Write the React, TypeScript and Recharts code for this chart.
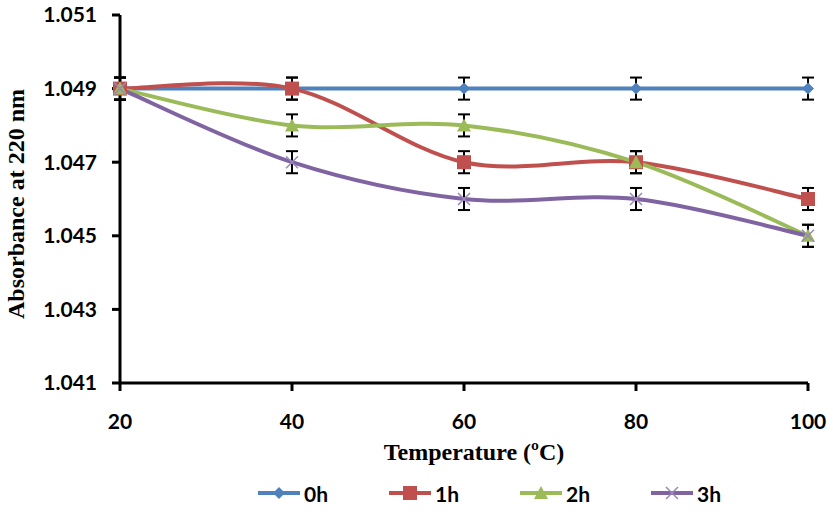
import React from 'react';
import {
  LineChart,
  Line,
  XAxis,
  YAxis,
  ErrorBar,
  Legend,
  Label
} from 'recharts';

const temps = [20, 40, 60, 80, 100];
const abs0h = [1.049, 1.049, 1.049, 1.049, 1.049];
const abs1h = [1.049, 1.049, 1.047, 1.047, 1.046];
const abs2h = [1.049, 1.048, 1.048, 1.047, 1.045];
const abs3h = [1.049, 1.047, 1.046, 1.046, 1.045];
const errs = [0.0003, 0.0003, 0.0003, 0.0003, 0.0003];

const yTicks = [1.041, 1.043, 1.045, 1.047, 1.049, 1.051];
const xTicks = [20, 40, 60, 80, 100];

const series = [
  { key: 'h0', name: '0h', color: '#4F81BD', marker: 'diamond' },
  { key: 'h1', name: '1h', color: '#C0504D', marker: 'square' },
  { key: 'h2', name: '2h', color: '#9BBB59', marker: 'triangle' },
  { key: 'h3', name: '3h', color: '#8064A2', marker: 'cross' }
];

const data = temps.map((t, i) => ({
  t,
  h0: abs0h[i],
  h1: abs1h[i],
  h2: abs2h[i],
  h3: abs3h[i],
  err: errs[i]
}));

// Excel-style smoothed line (Bezier with 1/6 tangents)
const excelSmooth = (context: any) => {
  let xs: number[] = [];
  let ys: number[] = [];
  return {
    areaStart() {},
    areaEnd() {},
    lineStart() {
      xs = [];
      ys = [];
    },
    point(x: number, y: number) {
      xs.push(+x);
      ys.push(+y);
    },
    lineEnd() {
      const n = xs.length;
      if (!n) return;
      context.moveTo(xs[0], ys[0]);
      for (let i = 0; i < n - 1; i++) {
        const p = Math.max(i - 1, 0);
        const q = Math.min(i + 2, n - 1);
        context.bezierCurveTo(
          xs[i] + (xs[i + 1] - xs[p]) / 6,
          ys[i] + (ys[i + 1] - ys[p]) / 6,
          xs[i + 1] - (xs[q] - xs[i]) / 6,
          ys[i + 1] - (ys[q] - ys[i]) / 6,
          xs[i + 1],
          ys[i + 1]
        );
      }
    }
  };
};

const drawMarker = (marker: string, color: string, cx: number, cy: number, key?: any) => {
  if (marker === 'diamond') {
    return (
      <path key={key} d={`M${cx},${cy - 6}L${cx + 6},${cy}L${cx},${cy + 6}L${cx - 6},${cy}Z`} fill={color} />
    );
  }
  if (marker === 'square') {
    return <rect key={key} x={cx - 7} y={cy - 7} width={14} height={14} fill={color} />;
  }
  if (marker === 'triangle') {
    return (
      <path key={key} d={`M${cx},${cy - 7}L${cx + 7},${cy + 6}L${cx - 7},${cy + 6}Z`} fill={color} />
    );
  }
  return (
    <path
      key={key}
      d={`M${cx - 6},${cy - 6}L${cx + 6},${cy + 6}M${cx - 6},${cy + 6}L${cx + 6},${cy - 6}`}
      stroke="#9a88b8"
      strokeWidth={1.5}
      fill="none"
    />
  );
};

const makeDot = (marker: string, color: string) => (props: any) => {
  const { cx, cy, index } = props;
  if (cx == null || cy == null) return <g key={index} />;
  return <g key={index}>{drawMarker(marker, color, cx, cy)}</g>;
};

const tickStyle = { fill: '#000', fontSize: 21, fontWeight: 700, fontFamily: 'Lato, sans-serif' };

const renderLegend = () => (
  <div style={{ display: 'flex', marginLeft: 257, height: 30, alignItems: 'center' }}>
    {series.map((s) => (
      <div key={s.key} style={{ display: 'flex', alignItems: 'center', width: 131 }}>
        <svg width={44} height={20}>
          <line x1={1} y1={10} x2={43} y2={10} stroke={s.color} strokeWidth={4} />
          {drawMarker(s.marker, s.color, 22, 10)}
        </svg>
        <span
          style={{
            marginLeft: 3,
            fontFamily: 'Lato, sans-serif',
            fontWeight: 700,
            fontSize: 21,
            color: '#000'
          }}
        >
          {s.name}
        </span>
      </div>
    ))}
  </div>
);

export default function App() {
  return (
    <div style={{ position: 'absolute', left: 0, top: 0, width: 833, height: 514, background: '#fff' }}>
      <LineChart
        width={833}
        height={514}
        data={data}
        margin={{ top: 15, right: 25, bottom: 6, left: 0 }}
      >
        <XAxis
          dataKey="t"
          type="number"
          domain={[20, 100]}
          ticks={xTicks}
          height={95}
          stroke="#000"
          axisLine={{ stroke: '#000', strokeWidth: 3 }}
          tickLine={{ stroke: '#000', strokeWidth: 3 }}
          tickSize={8}
          tickMargin={23}
          tick={tickStyle}
        >
          <Label
            content={(props: any) => {
              const vb = props.viewBox || { x: 0, y: 0, width: 0 };
              return (
                <text
                  x={vb.x + vb.width / 2 + 10}
                  y={vb.y + 77}
                  textAnchor="middle"
                  fontFamily="'Liberation Serif', 'Times New Roman', serif"
                  fontWeight={700}
                  fontSize={24}
                  fill="#000"
                >
                  Temperature (ºC)
                </text>
              );
            }}
          />
        </XAxis>
        <XAxis
          xAxisId="top"
          orientation="top"
          dataKey="t"
          type="number"
          domain={[20, 100]}
          height={0}
          tick={false}
          tickLine={false}
          axisLine={{ stroke: '#000', strokeWidth: 3 }}
        />
        <YAxis
          type="number"
          domain={[1.041, 1.051]}
          ticks={yTicks}
          width={120}
          stroke="#000"
          axisLine={{ stroke: '#000', strokeWidth: 3 }}
          tickLine={{ stroke: '#000', strokeWidth: 3 }}
          tickSize={8}
          tickMargin={15}
          tick={tickStyle}
          tickFormatter={(v: number) => v.toFixed(3)}
        >
          <Label
            content={(props: any) => {
              const vb = props.viewBox || { x: 0, y: 0, height: 0 };
              const cx = vb.x + 16;
              const cy = vb.y + vb.height / 2 + 5;
              return (
                <text
                  x={cx}
                  y={cy}
                  transform={`rotate(-90, ${cx}, ${cy})`}
                  textAnchor="middle"
                  dominantBaseline="central"
                  fontFamily="'Liberation Serif', 'Times New Roman', serif"
                  fontWeight={700}
                  fontSize={24}
                  fill="#000"
                >
                  Absorbance at 220 nm
                </text>
              );
            }}
          />
        </YAxis>
        <YAxis
          yAxisId="right"
          orientation="right"
          type="number"
          domain={[1.041, 1.051]}
          width={0}
          tick={false}
          tickLine={false}
          axisLine={{ stroke: '#000', strokeWidth: 3 }}
        />
        <Legend verticalAlign="bottom" content={renderLegend} wrapperStyle={{ left: 0, width: 833 }} />
        {series.map((s) => (
          <Line
            key={s.key}
            dataKey={s.key}
            name={s.name}
            type={excelSmooth as any}
            stroke={s.color}
            strokeWidth={4}
            dot={makeDot(s.marker, s.color)}
            activeDot={false}
            isAnimationActive={false}
          >
            <ErrorBar dataKey="err" direction="y" width={6} stroke="#000" strokeWidth={2} />
          </Line>
        ))}
      </LineChart>
    </div>
  );
}
